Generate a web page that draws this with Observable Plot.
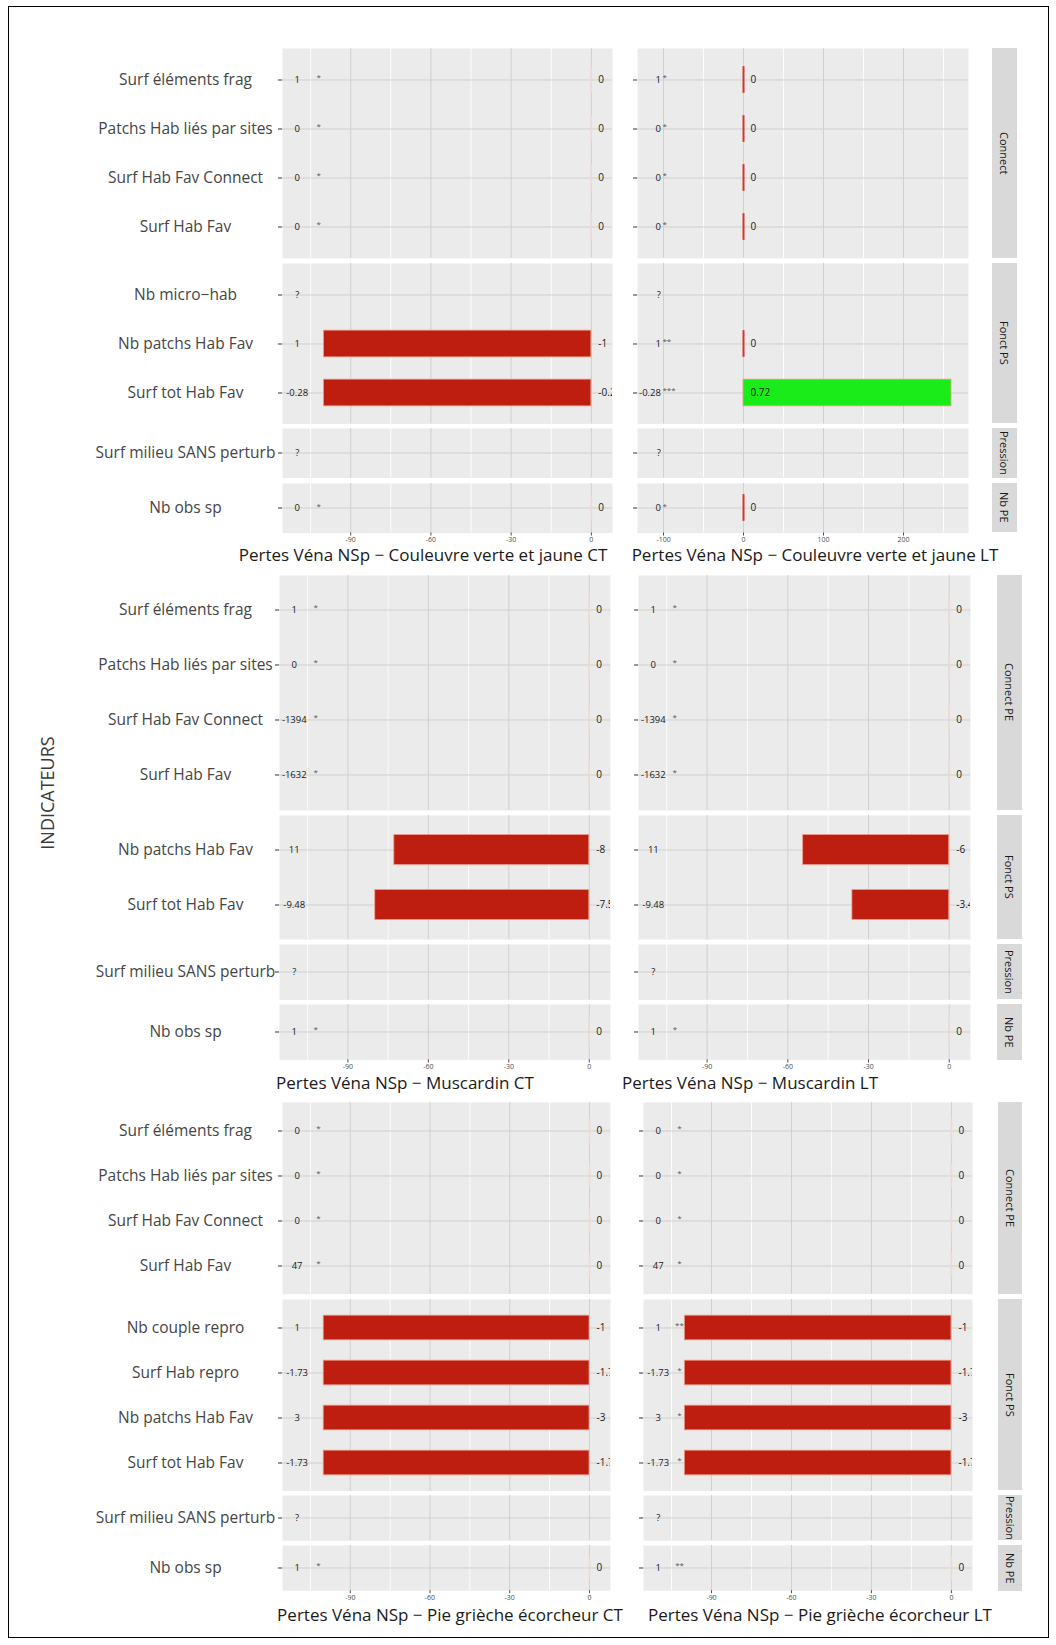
<!DOCTYPE html>
<html><head><meta charset="utf-8">
<script src="https://cdn.jsdelivr.net/npm/d3@7"></script>
<script src="https://cdn.jsdelivr.net/npm/@observablehq/plot@0.6"></script>
<style>
html,body{margin:0;padding:0;background:#fff;}
#root{position:relative;width:1056px;height:1645px;font-family:"Open Sans",sans-serif;overflow:hidden;background:#fff;}
.strip{position:absolute;background:#d9d9d9;display:flex;align-items:center;justify-content:center;}
.strip span{writing-mode:vertical-rl;font-size:11px;color:#1a1a1a;white-space:nowrap;}
.title{position:absolute;width:700px;text-align:center;font-size:17px;color:#1a1a1a;line-height:17px;white-space:nowrap;}
#border{position:absolute;left:8px;top:6px;width:1041px;height:1632px;border:1.5px solid #000;box-sizing:border-box;}
#ylab{position:absolute;left:47px;top:793px;transform:translate(-50%,-50%) rotate(-90deg);font-size:18px;line-height:18px;color:#3a3a3a;white-space:nowrap;}
</style></head>
<body><div id="root"><div id="border"></div><div id="ylab">INDICATEURS</div></div>
<script>
// ---------- DATA ----------
const speciesNames = ["Couleuvre verte et jaune", "Muscardin", "Pie grièche écorcheur"];
const horizons = ["CT", "LT"];
const titlePrefix = "Pertes Véna NSp − ";
const stripLabels = [
  ["Connect", "Fonct PS", "Pression", "Nb PE"],
  ["Connect PE", "Fonct PS", "Pression", "Nb PE"],
  ["Connect PE", "Fonct PS", "Pression", "Nb PE"]
];
const connectIndicators = ["Surf éléments frag", "Patchs Hab liés par sites", "Surf Hab Fav Connect", "Surf Hab Fav"];
const fonctIndicators = [
  ["Nb micro−hab", "Nb patchs Hab Fav", "Surf tot Hab Fav"],
  ["Nb patchs Hab Fav", "Surf tot Hab Fav"],
  ["Nb couple repro", "Surf Hab repro", "Nb patchs Hab Fav", "Surf tot Hab Fav"]
];
const pressionIndicators = ["Surf milieu SANS perturb"];
const nbIndicators = ["Nb obs sp"];

// initial values (left labels), top to bottom
const initCouleuvre = ["1", "0", "0", "0", "?", "1", "-0.28", "?", "0"];
const initMuscardin = ["1", "0", "-1394", "-1632", "11", "-9.48", "?", "1"];
const initPie = ["0", "0", "0", "47", "1", "-1.73", "3", "-1.73", "?", "1"];

// significance stars
const starsCouleuvreCT = ["*", "*", "*", "*", "", "", "", "", "*"];
const starsCouleuvreLT = ["*", "*", "*", "*", "", "**", "***", "", "*"];
const starsMuscardinCT = ["*", "*", "*", "*", "", "", "", "*"];
const starsMuscardinLT = ["*", "*", "*", "*", "", "", "", "*"];
const starsPieCT = ["*", "*", "*", "*", "", "", "", "", "", "*"];
const starsPieLT = ["*", "*", "*", "*", "**", "*", "*", "*", "", "**"];

// percentage losses (bar lengths), null = no bar
const pctCouleuvreCT = [0, 0, 0, 0, null, -100, -100, null, 0];
const pctCouleuvreLT = [0, 0, 0, 0, null, 0, 260, null, 0];
const pctMuscardinCT = [0, 0, 0, 0, -72.7, -79.8, null, 0];
const pctMuscardinLT = [0, 0, 0, 0, -54.3, -36, null, 0];
const pctPieCT = [0, 0, 0, 0, -100, -100, -100, -100, null, 0];
const pctPieLT = [0, 0, 0, 0, -100, -100, -100, -100, null, 0];

// absolute loss labels
const lossCouleuvreCT = ["0", "0", "0", "0", "", "-1", "-0.28", "", "0"];
const lossCouleuvreLT = ["0", "0", "0", "0", "", "0", "0.72", "", "0"];
const lossMuscardinCT = ["0", "0", "0", "0", "-8", "-7.58", "", "0"];
const lossMuscardinLT = ["0", "0", "0", "0", "-6", "-3.41", "", "0"];
const lossPieCT = ["0", "0", "0", "0", "-1", "-1.73", "-3", "-1.73", "", "0"];
const lossPieLT = ["0", "0", "0", "0", "-1", "-1.73", "-3", "-1.73", "", "0"];

// axis ticks
const ticksStd = [-90, -60, -30, 0];
const minorStd = [-105, -75, -45, -15];
const ticksWide = [-100, 0, 100, 200];
const minorWide = [-50, 50, 150, 250];

// annotation columns (data units)
const INIT_AT = -110;
const STAR_AT = -102;

// ---------- TABLES ----------
const indicatorGroups = fonctIndicators.map(f => [connectIndicators, f, pressionIndicators, nbIndicators]);
const initValues = [initCouleuvre, initMuscardin, initPie];
const starMarks = [[starsCouleuvreCT, starsCouleuvreLT], [starsMuscardinCT, starsMuscardinLT], [starsPieCT, starsPieLT]];
const pctLoss = [[pctCouleuvreCT, pctCouleuvreLT], [pctMuscardinCT, pctMuscardinLT], [pctPieCT, pctPieLT]];
const lossLabels = [[lossCouleuvreCT, lossCouleuvreLT], [lossMuscardinCT, lossMuscardinLT], [lossPieCT, lossPieLT]];

// ---------- LAYOUT / STYLE ----------
const layout = [
  {top: 48, step: 49.5, cols: [[282, 612], [637, 968]], strip: [992, 1017], titleY: 554, titleX: [423, 815],
   xDomain: [[-115.5, 7.9], [-132.5, 281.25]], wide: [false, true], tight: [false, true],
   zeroStroke: ["#f3d6cf", "#d8342a"]},
  {top: 575, step: 55.4, cols: [[279, 610], [638, 970]], strip: [997, 1022], titleY: 1082, titleX: [405, 750],
   xDomain: [[-115.5, 7.9], [-115.5, 7.9]], wide: [false, false], tight: [false, false],
   zeroStroke: ["#f3d6cf", "#f3d6cf"]},
  {top: 1102, step: 45.2, cols: [[282, 610], [643, 972]], strip: [998, 1022], titleY: 1614, titleX: [450, 820],
   xDomain: [[-115.5, 7.9], [-115.5, 7.9]], wide: [false, false], tight: [false, false],
   zeroStroke: ["#f3d6cf", "#f3d6cf"]}
];
const GAP = 5;
const LABEL_CX = 185;
const RED = "#bd1e10", GREEN = "#19ec19", OUTLINE = "#f29a88";

const root = document.getElementById("root");

layout.forEach((L, r) => {
  const groups = indicatorGroups[r];
  let idx = 0;
  let y0 = L.top;
  groups.forEach((inds, g) => {
    const n = inds.length;
    const H = n > 1 ? L.step * (n + 0.24) : L.step;
    const po = n > 1 ? 0.12 : 0;
    const isBottom = g === groups.length - 1;
    const inset = L.step * 0.225;
    for (let c = 0; c < 2; c++) {
      const rows = inds.map((ind, k) => ({
        ind,
        init: initValues[r][idx + k],
        star: starMarks[r][c][idx + k],
        pct: pctLoss[r][c][idx + k],
        loss: lossLabels[r][c][idx + k]
      }));
      const [pL, pR] = L.cols[c];
      const svgLeft = c === 0 ? 0 : pL - 12;
      const mL = pL - svgLeft;
      const mB = isBottom ? 14 : 0;
      const major = L.wide[c] ? ticksWide : ticksStd;
      const minor = L.wide[c] ? minorWide : minorStd;
      const tight = L.tight[c];
      const marks = [
        Plot.frame({fill: "#ebebeb", stroke: "none"}),
        Plot.gridX({ticks: minor, stroke: "#ffffff", strokeOpacity: 1, strokeWidth: 0.9}),
        Plot.gridX({ticks: major, stroke: "#d0d0d0", strokeOpacity: 1, strokeWidth: 1}),
        Plot.gridY({stroke: "#d0d0d0", strokeOpacity: 1, strokeWidth: 1}),
        Plot.axisY({tickSize: 4, tickFormat: () => "", label: null, stroke: "#333"}),
        Plot.tickX(rows.filter(d => d.pct === 0), {x: "pct", y: "ind", stroke: L.zeroStroke[c],
          strokeWidth: L.wide[c] ? 2 : 1.5, insetTop: inset, insetBottom: inset}),
        Plot.barX(rows.filter(d => d.pct != null && d.pct !== 0), {x1: 0, x2: "pct", y: "ind",
          fill: d => d.pct > 0 ? GREEN : RED, stroke: OUTLINE, strokeWidth: 0.8,
          insetTop: inset, insetBottom: inset, clip: true}),
        Plot.text(rows, {x: tight ? STAR_AT : INIT_AT, y: "ind", text: "init", fontSize: 9.5, fill: "#1a1a1a",
          textAnchor: tight ? "end" : "middle", dx: tight ? -1 : 0, clip: true}),
        Plot.text(rows, {x: STAR_AT, y: "ind", text: "star", fontSize: 8, fill: "#555", dy: -2,
          textAnchor: tight ? "start" : "middle", dx: tight ? 0.5 : 0, clip: true}),
        Plot.text(rows, {x: 0, y: "ind", text: "loss", textAnchor: "start", dx: 7, fontSize: 10, fill: "#1a1a1a", clip: true})
      ];
      if (c === 0) {
        marks.push(Plot.text(inds, {y: d => d, text: d => d, frameAnchor: "left", dx: -(pL - LABEL_CX),
          textAnchor: "middle", fontSize: 15.5, fill: "#454545"}));
      }
      if (isBottom) {
        marks.push(Plot.axisX({ticks: major, tickFormat: d => String(d), tickSize: 3, tickPadding: 1,
          fontSize: 7, color: "#4d4d4d", label: null}));
      }
      const svg = Plot.plot({
        width: pR - svgLeft,
        height: H + mB,
        marginLeft: mL, marginRight: 0, marginTop: 0, marginBottom: mB,
        x: {domain: L.xDomain[c], axis: null},
        y: {type: "band", domain: inds, paddingInner: 0, paddingOuter: po, align: 0.5, axis: null},
        color: {type: "identity"},
        style: {fontFamily: "'Open Sans', sans-serif", background: "transparent", overflow: "visible", maxWidth: "none"},
        marks
      });
      svg.style.position = "absolute";
      svg.style.left = svgLeft + "px";
      svg.style.top = y0 + "px";
      root.appendChild(svg);
    }
    // facet strip
    const s = document.createElement("div");
    s.className = "strip";
    s.style.left = L.strip[0] + "px";
    s.style.width = (L.strip[1] - L.strip[0]) + "px";
    s.style.top = y0 + "px";
    s.style.height = H + "px";
    s.innerHTML = "<span>" + stripLabels[r][g] + "</span>";
    root.appendChild(s);
    idx += n;
    y0 += H + GAP;
  });
  // titles
  horizons.forEach((h, c) => {
    const t = document.createElement("div");
    t.className = "title";
    t.style.left = (L.titleX[c] - 350) + "px";
    t.style.top = (L.titleY - 8.5) + "px";
    t.textContent = titlePrefix + speciesNames[r] + " " + h;
    root.appendChild(t);
  });
});
</script></body></html>
